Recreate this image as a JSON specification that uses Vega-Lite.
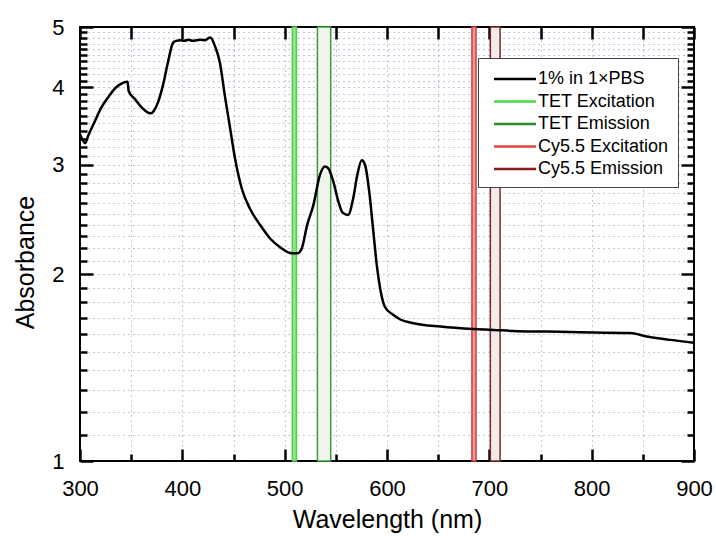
{
  "$schema": "https://vega.github.io/schema/vega-lite/v6.json",
  "width": 614,
  "height": 434,
  "autosize": "none",
  "padding": {"left": 80, "top": 27, "right": 22, "bottom": 75},
  "background": "white",
  "config": {
    "font": "Liberation Sans",
    "view": {"stroke": "black", "strokeWidth": 2},
    "axis": {
      "domain": false,
      "tickColor": "black",
      "tickWidth": 2.5,
      "labelFont": "Liberation Sans",
      "labelFontSize": 22,
      "labelColor": "black",
      "titleFont": "Liberation Sans",
      "titleFontSize": 25,
      "titleFontWeight": "normal",
      "titleColor": "black",
      "gridColor": "#2b2b80",
      "gridDash": [1, 4],
      "gridOpacity": 0.55,
      "gridWidth": 1,
      "labelOverlap": false,
      "labelFlush": false
    }
  },
  "datasets": {
    "spectrum": [
      {"wavelength": 300, "absorbance": 3.36},
      {"wavelength": 303, "absorbance": 3.28},
      {"wavelength": 305, "absorbance": 3.25},
      {"wavelength": 308, "absorbance": 3.34},
      {"wavelength": 314, "absorbance": 3.51},
      {"wavelength": 320.5, "absorbance": 3.7},
      {"wavelength": 327.4, "absorbance": 3.85},
      {"wavelength": 334, "absorbance": 3.98},
      {"wavelength": 340, "absorbance": 4.05},
      {"wavelength": 346.5, "absorbance": 4.08},
      {"wavelength": 347.6, "absorbance": 3.94},
      {"wavelength": 353.5, "absorbance": 3.83},
      {"wavelength": 360, "absorbance": 3.715},
      {"wavelength": 366.5, "absorbance": 3.64},
      {"wavelength": 369.5, "absorbance": 3.63},
      {"wavelength": 372, "absorbance": 3.66},
      {"wavelength": 376.2, "absorbance": 3.78},
      {"wavelength": 381.1, "absorbance": 4.03},
      {"wavelength": 386, "absorbance": 4.39},
      {"wavelength": 391, "absorbance": 4.72},
      {"wavelength": 394, "absorbance": 4.75},
      {"wavelength": 398, "absorbance": 4.76},
      {"wavelength": 402, "absorbance": 4.75},
      {"wavelength": 406, "absorbance": 4.77},
      {"wavelength": 410, "absorbance": 4.75},
      {"wavelength": 414, "absorbance": 4.76},
      {"wavelength": 418, "absorbance": 4.77},
      {"wavelength": 422, "absorbance": 4.76},
      {"wavelength": 425, "absorbance": 4.79},
      {"wavelength": 427, "absorbance": 4.81},
      {"wavelength": 429, "absorbance": 4.78},
      {"wavelength": 431.6, "absorbance": 4.67},
      {"wavelength": 436.6, "absorbance": 4.39},
      {"wavelength": 441.5, "absorbance": 3.88},
      {"wavelength": 446.5, "absorbance": 3.45},
      {"wavelength": 451.5, "absorbance": 3.07},
      {"wavelength": 458, "absorbance": 2.75},
      {"wavelength": 466, "absorbance": 2.55},
      {"wavelength": 476, "absorbance": 2.4},
      {"wavelength": 486, "absorbance": 2.28},
      {"wavelength": 495.5, "absorbance": 2.21},
      {"wavelength": 507, "absorbance": 2.16},
      {"wavelength": 512.4, "absorbance": 2.16},
      {"wavelength": 516.7, "absorbance": 2.2},
      {"wavelength": 522, "absorbance": 2.4},
      {"wavelength": 528, "absorbance": 2.58},
      {"wavelength": 534.5, "absorbance": 2.89},
      {"wavelength": 539.4, "absorbance": 2.98},
      {"wavelength": 542.6, "absorbance": 2.96},
      {"wavelength": 547.5, "absorbance": 2.82},
      {"wavelength": 552.4, "absorbance": 2.62},
      {"wavelength": 556.7, "absorbance": 2.51},
      {"wavelength": 562, "absorbance": 2.49},
      {"wavelength": 567, "absorbance": 2.65},
      {"wavelength": 571, "absorbance": 2.89},
      {"wavelength": 575.3, "absorbance": 3.05},
      {"wavelength": 578.5, "absorbance": 3.0},
      {"wavelength": 582.7, "absorbance": 2.71},
      {"wavelength": 586, "absorbance": 2.4},
      {"wavelength": 590, "absorbance": 2.07},
      {"wavelength": 594, "absorbance": 1.87},
      {"wavelength": 598, "absorbance": 1.77},
      {"wavelength": 606, "absorbance": 1.72},
      {"wavelength": 613, "absorbance": 1.69},
      {"wavelength": 626, "absorbance": 1.667},
      {"wavelength": 652, "absorbance": 1.646},
      {"wavelength": 684, "absorbance": 1.631},
      {"wavelength": 704, "absorbance": 1.626},
      {"wavelength": 723, "absorbance": 1.62},
      {"wavelength": 756, "absorbance": 1.616},
      {"wavelength": 779, "absorbance": 1.613},
      {"wavelength": 837.5, "absorbance": 1.607},
      {"wavelength": 854, "absorbance": 1.587},
      {"wavelength": 877, "absorbance": 1.567},
      {"wavelength": 900, "absorbance": 1.551}
    ],
    "bands": [
      {"band": "TET Excitation", "start": 507.5, "end": 511.5},
      {"band": "TET Emission", "start": 532, "end": 545},
      {"band": "Cy5.5 Excitation", "start": 683, "end": 687},
      {"band": "Cy5.5 Emission", "start": 701, "end": 710.5}
    ]
  },
  "layer": [
    {
      "data": {"name": "bands"},
      "mark": {"type": "rect", "strokeWidth": 1.5},
      "encoding": {
        "x": {
          "field": "start",
          "type": "quantitative",
          "scale": {"domain": [300, 900], "nice": false, "zero": false},
          "axis": {
            "orient": "top",
            "title": null,
            "labels": false,
            "values": [300, 350, 400, 450, 500, 550, 600, 650, 700, 750, 800, 850, 900],
            "tickSize": -12,
            "grid": true
          }
        },
        "x2": {"field": "end"},
        "y": {
          "datum": 1,
          "type": "quantitative",
          "scale": {"type": "log", "domain": [1, 5], "nice": false},
          "axis": {
            "orient": "right",
            "title": null,
            "labels": false,
            "values": [1, 1.1, 1.2, 1.3, 1.4, 1.5, 1.6, 1.7, 1.8, 1.9, 2, 2.1, 2.2, 2.3, 2.4, 2.5, 2.6, 2.7, 2.8, 2.9, 3, 3.1, 3.2, 3.3, 3.4, 3.5, 3.6, 3.7, 3.8, 3.9, 4, 4.1, 4.2, 4.3, 4.4, 4.5, 4.6, 4.7, 4.8, 4.9, 5],
            "tickSize": {"condition": {"test": "datum.value % 1 === 0", "value": -13}, "value": -7},
            "grid": true
          }
        },
        "y2": {"datum": 5},
        "fill": {
          "field": "band",
          "type": "nominal",
          "scale": {
            "domain": ["TET Excitation", "TET Emission", "Cy5.5 Excitation", "Cy5.5 Emission"],
            "range": ["#8fe68f", "#eef6ee", "#eb9a9a", "#f5eaea"]
          },
          "legend": null
        },
        "stroke": {
          "field": "band",
          "type": "nominal",
          "scale": {
            "domain": ["TET Excitation", "TET Emission", "Cy5.5 Excitation", "Cy5.5 Emission"],
            "range": ["#4ccf4c", "#3f9a3f", "#d33c3c", "#7a2a2a"]
          },
          "legend": null
        }
      }
    },
    {
      "data": {"name": "spectrum"},
      "mark": {"type": "line", "strokeWidth": 2.5, "interpolate": "monotone"},
      "encoding": {
        "x": {
          "field": "wavelength",
          "type": "quantitative",
          "axis": {
            "orient": "bottom",
            "title": "Wavelength (nm)",
            "values": [300, 350, 400, 450, 500, 550, 600, 650, 700, 750, 800, 850, 900],
            "labelExpr": "datum.value % 100 === 0 ? datum.label : ''",
            "tickSize": {"condition": {"test": "datum.value % 100 === 0", "value": -12}, "value": -7},
            "labelPadding": 29,
            "titleBaseline": "alphabetic",
            "titleY": 66,
            "grid": false
          }
        },
        "y": {
          "field": "absorbance",
          "type": "quantitative",
          "axis": {
            "orient": "left",
            "title": "Absorbance",
            "values": [1, 1.1, 1.2, 1.3, 1.4, 1.5, 1.6, 1.7, 1.8, 1.9, 2, 2.1, 2.2, 2.3, 2.4, 2.5, 2.6, 2.7, 2.8, 2.9, 3, 3.1, 3.2, 3.3, 3.4, 3.5, 3.6, 3.7, 3.8, 3.9, 4, 4.1, 4.2, 4.3, 4.4, 4.5, 4.6, 4.7, 4.8, 4.9, 5],
            "labelExpr": "datum.value % 1 === 0 ? format(datum.value, 'd') : ''",
            "tickSize": {"condition": {"test": "datum.value % 1 === 0", "value": -13}, "value": -7},
            "labelPadding": 29,
            "titleBaseline": "alphabetic",
            "titleX": -47,
            "titleY": 235,
            "grid": false
          }
        },
        "color": {
          "datum": "1% in 1×PBS",
          "type": "nominal",
          "scale": {
            "domain": ["1% in 1×PBS", "TET Excitation", "TET Emission", "Cy5.5 Excitation", "Cy5.5 Emission"],
            "range": ["#000000", "#44dd44", "#2e8b2e", "#dd4444", "#8b1a1a"]
          },
          "legend": {
            "orient": "none",
            "legendX": 398,
            "legendY": 31,
            "title": null,
            "symbolType": "M-2,0H2",
            "symbolSize": 441,
            "symbolStrokeWidth": 2.5,
            "symbolFillColor": "transparent",
            "labelFont": "Liberation Sans",
            "labelFontSize": 18,
            "labelColor": "black",
            "labelOffset": 11,
            "padding": 9,
            "symbolOffset": 16,
            "rowPadding": 1.5,
            "fillColor": "white",
            "strokeColor": "#444444"
          }
        }
      }
    }
  ],
  "resolve": {"axis": {"x": "independent", "y": "independent"}}
}
